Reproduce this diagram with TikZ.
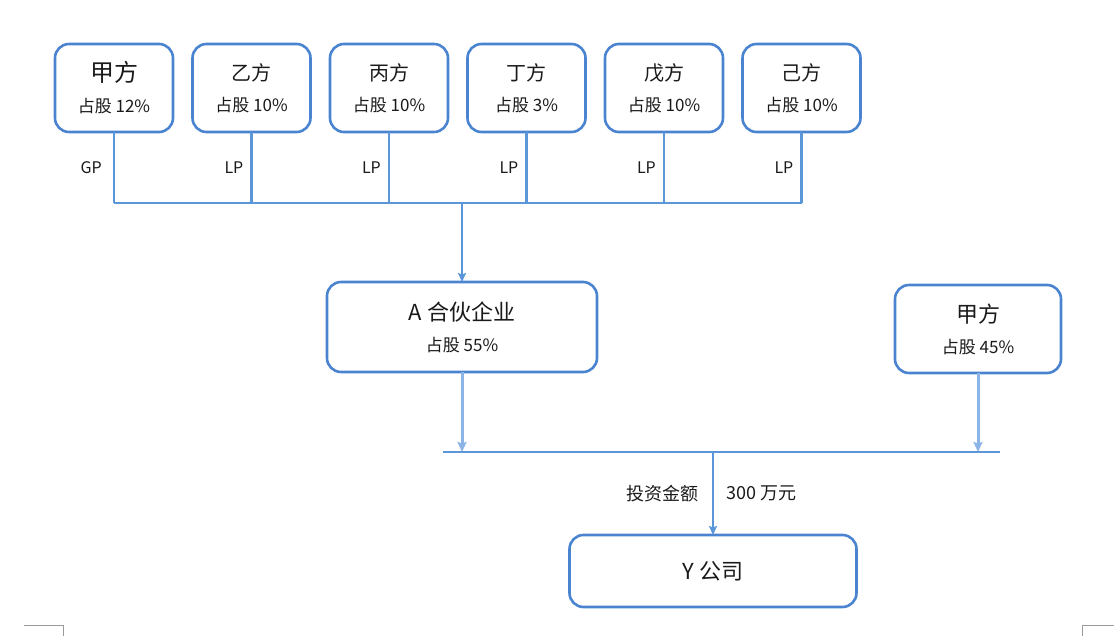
\documentclass[tikz,border=0pt]{standalone}
\usepackage{fontspec}
\setmainfont{Noto Sans CJK SC}
\usepackage{xcolor}
\usetikzlibrary{positioning,arrows.meta}
\definecolor{blue1}{HTML}{4A84D0}
\definecolor{blue2}{HTML}{5B97D8}
\definecolor{blue3}{HTML}{8DB4E6}
\definecolor{ink1}{HTML}{1A1A1A}
\definecolor{gray1}{HTML}{9A9A9A}

\begin{document}
\begin{tikzpicture}[
    x=1pt, y=-1pt, >=Stealth,
    party/.style={draw=blue1, line width=2.6pt, rounded corners=14pt,
                  fill=white, minimum width=118pt, minimum height=88pt,
                  align=center, text=ink1, inner sep=0pt, outer sep=0pt,
                  font=\fontsize{17}{31}\selectfont},
    bigparty/.style={party, minimum width=270pt, minimum height=90pt},
    link/.style={draw=blue2, line width=2.3pt},
    flow/.style={->, draw=blue2, line width=2.3pt,
                 >={Stealth[length=9pt, width=8pt, inset=1.5pt]}},
    softflow/.style={->, draw=blue3, line width=3pt,
                     >={Stealth[length=10pt, width=9pt, inset=1.5pt]}},
    lab/.style={inner sep=0pt, text=ink1,
                font=\fontsize{16}{18}\selectfont},
    cropmark/.style={draw=gray1, line width=0.8pt},
]
\useasboundingbox (0,0) rectangle (1114,636);

% ── partners ──
\node[party] (jia) at (114,88)
    {{\fontsize{24}{31}\selectfont 甲方}\\占股 12\%};
\node[party, right=19.5pt of jia] (yi)
    {{\fontsize{20}{31}\selectfont 乙方}\\占股 10\%};
\node[party, right=19.5pt of yi] (bing)
    {{\fontsize{20}{31}\selectfont 丙方}\\占股 10\%};
\node[party, right=19.5pt of bing] (ding)
    {{\fontsize{20}{31}\selectfont 丁方}\\占股 3\%};
\node[party, right=19.5pt of ding] (wu)
    {{\fontsize{20}{31}\selectfont 戊方}\\占股 10\%};
\node[party, right=19.5pt of wu] (ji)
    {{\fontsize{20}{31}\selectfont 己方}\\占股 10\%};

% ── partner bus ──
\coordinate (bus1) at (0,203);
\draw[link] (jia.south) -- node[lab, left=11pt] {GP} (jia.south |- bus1);
\draw[link] (yi.south) -- node[lab, left=7pt] {LP} (yi.south |- bus1);
\draw[link] (bing.south) -- node[lab, left=7pt] {LP} (bing.south |- bus1);
\draw[link] (ding.south) -- node[lab, left=7pt] {LP} (ding.south |- bus1);
\draw[link] (wu.south) -- node[lab, left=7pt] {LP} (wu.south |- bus1);
\draw[link] (ji.south) -- node[lab, left=7pt] {LP} (ji.south |- bus1);
\draw[link] (jia.south |- bus1) -- (ji.south |- bus1);

% ── shareholders ──
\node[bigparty, font=\fontsize{17}{31}\selectfont] (apart) at (462,327)
    {{\fontsize{22}{31}\selectfont A 合伙企业}\\占股 55\%};
\node[party, minimum width=166pt, font=\fontsize{17}{31}\selectfont]
    (jiab) at (978,329)
    {{\fontsize{22}{31}\selectfont 甲方}\\占股 45\%};

\draw[flow] (bus1 -| apart.north) -- (apart.north);

% ── shareholder bus ──
\coordinate (bus2L) at (443,452);
\coordinate (bus2R) at (1000,452);
\draw[softflow] (apart.south) -- (apart.south |- bus2L);
\draw[softflow] (jiab.south) -- (jiab.south |- bus2R);
\draw[link] (bus2L) -- (bus2R);

% ── company ──
\node[party, minimum width=287pt, minimum height=72pt,
      font=\fontsize{22}{26}\selectfont] (yco) at (713,571) {Y 公司};

\draw[flow] (bus2L -| yco.north) --
    node[lab, left=13pt, font=\fontsize{18}{20}\selectfont] {投资金额}
    node[lab, right=12pt, font=\fontsize{18}{20}\selectfont] {300 万元}
    (yco.north);

% ── page corner marks ──
\draw[cropmark] (24,625) -- (63,625) -- (63,636);
\draw[cropmark] (1082,636) -- (1082,625) -- (1114,625);

\end{tikzpicture}
\end{document}
